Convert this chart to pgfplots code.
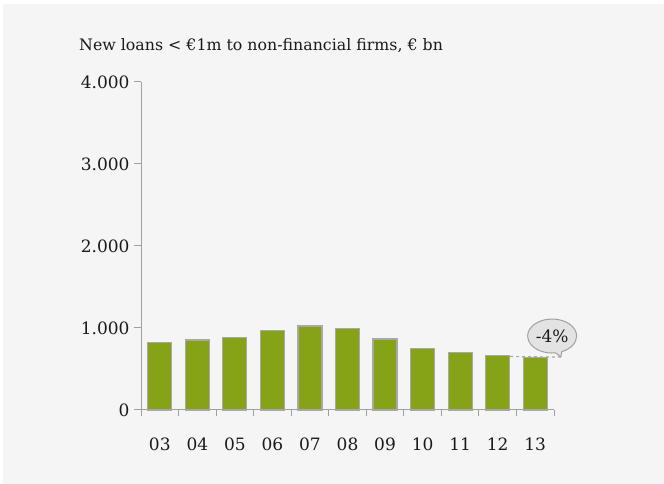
\documentclass[border=0pt]{standalone}
\usepackage{pgfplots}
\pgfplotsset{compat=1.18}
\usepackage{fontspec}
\setmainfont{DejaVu Serif}
\usetikzlibrary{shapes.callouts}
\definecolor{bg}{HTML}{F5F5F5}
\definecolor{barg}{HTML}{86A318}
\definecolor{bord}{HTML}{A8A8A8}
\definecolor{axc}{HTML}{A0A0A0}
\definecolor{txt}{HTML}{1A1A1A}
\pgfplotstableread{
x y
0 825
1 854
2 882
3 967
4 1024
5 991
6 866
7 752
8 699
9 667
10 638
}\loans
\begin{document}
\begin{tikzpicture}[x=1bp,y=1bp]
\fill[white] (0,0) rectangle (664,484);
\fill[bg] (3,0) rectangle (664,480);
\useasboundingbox (0,0) rectangle (664,484);
\node[anchor=base west,font=\fontsize{15.8bp}{19bp}\selectfont,text=txt,inner sep=0] at (79,433) {New loans < €1m to non-financial firms, € bn};
\begin{axis}[
  at={(141bp,74bp)}, anchor=south west,
  scale only axis, width=413bp, height=328bp,
  xmin=-0.5, xmax=10.5, ymin=0, ymax=4000,
  axis x line*=bottom, axis y line*=left,
  axis line style={axc, line width=1bp, -},
  xtick={0,...,10},
  xticklabels={03,04,05,06,07,08,09,10,11,12,13},
  minor xtick={-0.5,0.5,...,10.5},
  ytick={0,1000,2000,3000,4000},
  tick align=outside,
  major x tick style={draw=none},
  minor tick length=6bp,
  major tick length=7bp,
  tick style={axc, line width=1bp},
  /pgf/number format/1000 sep={.},
  /pgf/number format/assume math mode=true,
  ticklabel style={font=\fontsize{17bp}{20bp}\selectfont, text=txt},
  yticklabel style={xshift=-1bp},
  xticklabel style={yshift=-17bp},
  clip=false,
]
\addplot[ybar, bar width=24bp, fill=barg, draw=bord, line width=1.2bp] table[x=x,y=y] {\loans};
\draw[bord, dashed, line width=1.2bp] (axis cs:9.33,652) -- (axis cs:10.72,645);
\node[ellipse callout, draw=axc, fill=bg!85!gray, line width=1bp, text=txt,
  minimum width=49bp, minimum height=34bp, inner sep=0.5bp,
  callout absolute pointer={(axis cs:10.68,646)},
  font=\fontsize{17bp}{20bp}\selectfont] at (axis cs:10.45,902) {-4\%};
\end{axis}
\end{tikzpicture}
\end{document}
